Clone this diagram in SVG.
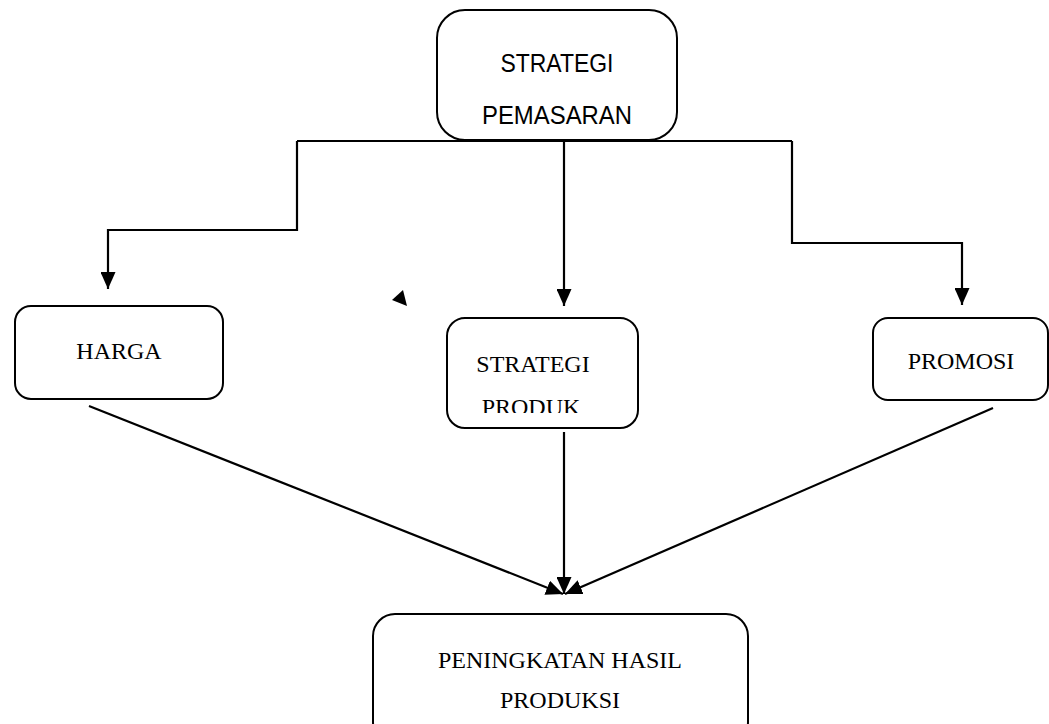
<svg xmlns="http://www.w3.org/2000/svg" width="1049" height="724" viewBox="0 0 1049 724">
<style>
.box{fill:#fff;stroke:#000;stroke-width:2}
.ln{fill:none;stroke:#000;stroke-width:2.2}
.serif{font-family:"Liberation Serif","Times New Roman",serif;font-size:24px;fill:#000;text-anchor:middle}
.sans{font-family:"Liberation Sans",Arial,sans-serif;font-size:25px;fill:#000;text-anchor:middle}
</style>
<defs>
<marker id="ah" markerUnits="userSpaceOnUse" markerWidth="17" markerHeight="15" refX="17" refY="7.5" orient="auto">
<path d="M0,0 L17,7.5 L0,15 Z" fill="#000"/>
</marker>
<clipPath id="cp"><rect x="447" y="318" width="191" height="95"/></clipPath>
</defs>
<rect width="1049" height="724" fill="#fff"/>
<g id="connectors">
<path class="ln" d="M297,141 H792"/>
<path class="ln" d="M297,141 V230 H108 V289" marker-end="url(#ah)"/>
<path class="ln" d="M792,141 V243 H962 V305" marker-end="url(#ah)"/>
<path class="ln" d="M564,140 V306" marker-end="url(#ah)"/>
<path class="ln" d="M89,406 L563,594" marker-end="url(#ah)"/>
<path class="ln" d="M564,432 V594" marker-end="url(#ah)"/>
<path class="ln" d="M993,408 L565,594" marker-end="url(#ah)"/>
<polygon points="392,300 403,290 407,306" fill="#000"/>
</g>
<g id="strategi-pemasaran">
<rect class="box" x="437" y="10" width="240" height="130" rx="28"/>
<text class="sans" x="557" y="72" textLength="113" lengthAdjust="spacingAndGlyphs">STRATEGI</text>
<text class="sans" x="557" y="124" textLength="150" lengthAdjust="spacingAndGlyphs">PEMASARAN</text>
</g>
<g id="harga">
<rect class="box" x="15" y="306" width="208" height="93" rx="16"/>
<text class="serif" x="119" y="359">HARGA</text>
</g>
<g id="strategi-produk">
<rect class="box" x="447" y="318" width="191" height="110" rx="18"/>
<text class="serif" x="533" y="372">STRATEGI</text>
<text class="serif" x="531" y="415" clip-path="url(#cp)">PRODUK</text>
</g>
<g id="promosi">
<rect class="box" x="873" y="318" width="175" height="82" rx="15"/>
<text class="serif" x="961" y="369">PROMOSI</text>
</g>
<g id="peningkatan">
<rect class="box" x="373" y="614" width="375" height="130" rx="22"/>
<text class="serif" x="560" y="668">PENINGKATAN HASIL</text>
<text class="serif" x="560" y="708">PRODUKSI</text>
</g>
</svg>
